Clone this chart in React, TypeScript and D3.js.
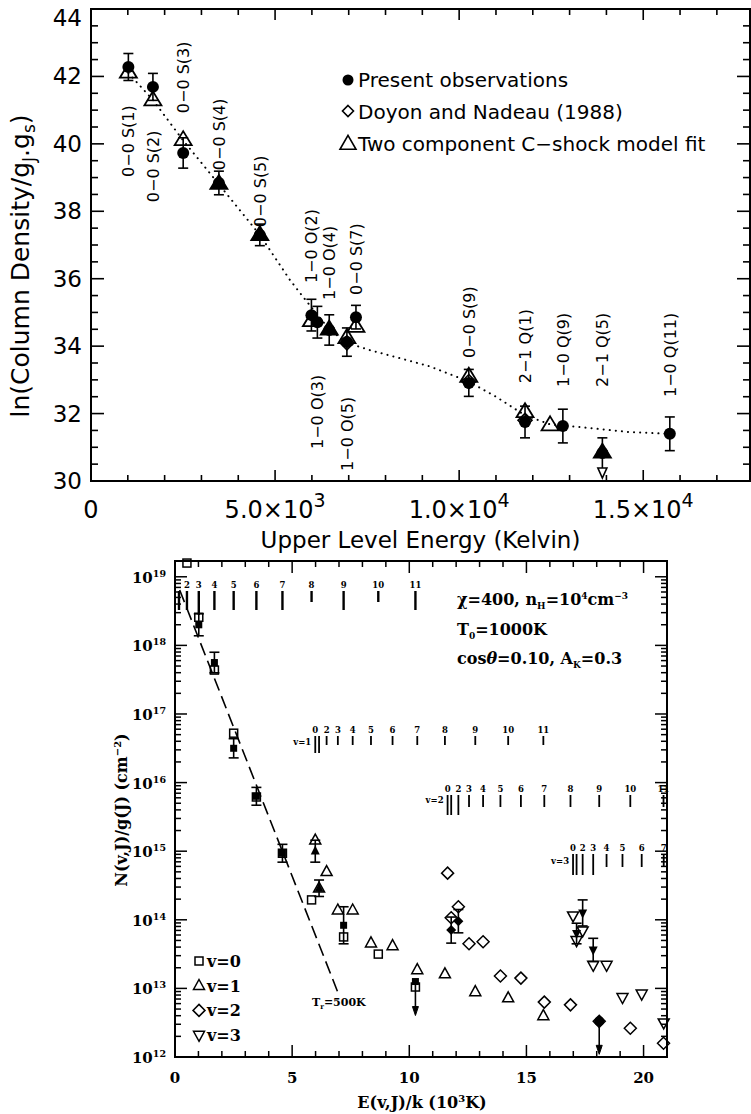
import React from "react";
import * as d3 from "d3";

// ---------- upper panel: ln(N / gJ gs) against upper level energy (K) ----------
const lineNames = [
  "0−0 S(1)", "0−0 S(2)", "0−0 S(3)", "0−0 S(4)", "0−0 S(5)",
  "1−0 O(2)", "1−0 O(3)", "1−0 O(4)", "1−0 O(5)", "0−0 S(7)",
  "0−0 S(9)", "2−1 Q(1)", "1−0 Q(9)", "2−1 Q(5)", "1−0 Q(11)",
];
const lineEnergy = [1015, 1682, 2504, 3474, 4586, 5987, 6149, 6471, 6951, 7197, 10262, 11789, 12817, 13890, 15722];
const obsLn = [42.28, 41.69, 39.73, 38.84, 37.3, 34.92, 34.71, 34.48, 34.12, 34.86, 32.91, 31.75, 31.63, 30.83, 31.4];
const obsErr = [0.4, 0.4, 0.45, 0.35, 0.32, 0.47, 0.47, 0.45, 0.42, 0.35, 0.4, 0.47, 0.5, 0.45, 0.5];
const upperLimitLines = ["2−1 Q(5)"];
// ln value where each rotated line label starts
const labelStartLn = [39.02, 38.27, 40.91, 39.22, 37.53, 35.87, 30.95, 35.37, 30.3, 35.52, 33.65, 32.9, 32.79, 32.79, 32.49];

// two component C-shock model (open triangles)
const modelEnergy = [1015, 1682, 2504, 3474, 4586, 5987, 6471, 6951, 7197, 10262, 11789, 12470, 13890];
const modelLn = [42.12, 41.3, 40.12, 38.82, 37.3, 34.75, 34.5, 34.25, 34.58, 33.1, 32.05, 31.66, 30.85];

// Doyon and Nadeau (1988)
const doyonEnergy = [6951, 10262, 11789];
const doyonLn = [34.1, 32.95, 31.8];

// dotted fit curve
const fitEnergy = [1015, 1682, 2504, 3474, 4586, 5405, 5676, 5987, 6471, 6951, 7577, 8700, 9200, 10262, 11000, 11789, 12466, 13280, 14640, 15700];
const fitLn = [42.1, 41.3, 40.1, 38.8, 37.3, 35.96, 35.58, 35.15, 34.5, 34.1, 33.88, 33.55, 33.4, 32.95, 32.5, 31.95, 31.68, 31.6, 31.45, 31.4];

const topLegend = ["Present observations", "Doyon and Nadeau (1988)", "Two component C−shock model fit"];

// ---------- lower panel: log10 N(v,J)/g(J) against E(v,J)/k (10^3 K) ----------
const v0Energy = [0, 0.17, 0.51, 1.015, 1.682, 2.504, 3.474, 4.586, 5.829, 7.197, 8.677, 10.262];
const v1Energy = [5.987, 6.149, 6.471, 6.951, 7.584, 8.365, 9.286, 10.341, 11.521, 12.817, 14.221, 15.722];
const v2Energy = [11.635, 11.789, 12.095, 12.55, 13.15, 13.89, 14.764, 15.763, 16.88, 18.107, 19.434, 20.851];
const v3Energy = [16.99, 17.14, 17.4, 17.85, 18.42, 19.1, 19.92, 20.86];

// model (open symbols), log10, null = off the plot
const v0Model = [null, null, 19.2, 18.41, 17.64, 16.72, 15.79, 14.97, 14.29, 13.75, 13.5, 13.02];
const v1Model = [15.16, 14.46, 14.7, 14.14, 14.14, 13.66, 13.62, 13.27, 13.21, 12.95, 12.86, 12.6];
const v2Model = [14.68, 14.03, 14.19, 13.65, 13.68, 13.18, 13.15, 12.8, 12.76, 12.52, 12.42, 12.2];
const v3Model = [14.06, 13.7, 13.84, 13.34, 13.34, 12.87, 12.92, 12.5];

// observations (filled symbols), log10 with error in dex
const v0ObsJ = [3, 4, 5, 6, 7, 9];
const v0ObsLog = [18.3, 17.75, 16.5, 15.8, 14.97, 13.92];
const v0ObsErr = [0.16, 0.15, 0.14, 0.13, 0.13, 0.27];
const v1ObsJ = [0, 1];
const v1ObsLog = [15.0, 14.46];
const v1ObsErr = [0.16, 0.12];
const v2ObsJ = [1, 2];
const v2ObsLog = [13.85, 13.98];
const v2ObsErr = [0.19, 0.17];
const v3ObsJ = [1, 2, 3];
const v3ObsLog = [13.8, 14.1, 13.56];
const v3ObsErr = [0.15, 0.19, 0.17];
// upper limits
const v0LimitJ = [11];
const v0LimitLog = [13.1];
const circleLimitE = [18.107];
const circleLimitLog = [12.52];

// level markers: J levels drawn with longer sticks
const rowLongJ = [[3], [0, 1], [0, 1, 2], [0, 1, 2, 3]];
const v0ShortJ = [8, 10];

const tempLine = { t: 500, e0: 0.2, e1: 6.95, logAt0: 18.98 };

const sans = "'DejaVu Sans', sans-serif";
const serif = "'DejaVu Serif', serif";

const triUp = (x: number, y: number, w: number, h: number) =>
  `M${x},${y - h * 0.62}L${x + w / 2},${y + h * 0.38}L${x - w / 2},${y + h * 0.38}Z`;
const triDown = (x: number, y: number, w: number, h: number) =>
  `M${x},${y + h * 0.62}L${x + w / 2},${y - h * 0.38}L${x - w / 2},${y - h * 0.38}Z`;
const diamond = (x: number, y: number, r: number) =>
  `M${x},${y - r}L${x + r},${y}L${x},${y + r}L${x - r},${y}Z`;

function sci(v: number) {
  if (v === 0) return { m: "0", e: "" };
  const e = Math.floor(Math.log10(v));
  return { m: (v / 10 ** e).toFixed(1) + "×10", e: String(e) };
}

export default function App() {
  // upper panel scales
  const xT = d3.scaleLinear().domain([0, 17900]).range([91, 750]);
  const yT = d3.scaleLinear().domain([30, 44]).range([481, 9]);
  const tL = 91, tR = 750, tTop = 9, tBot = 481;

  // lower panel scales
  const xB = d3.scaleLinear().domain([0, 21]).range([175, 667]);
  const yB = d3.scaleLog().domain([1e12, 10 ** 19.23]).range([1057, 561]);
  const bL = 175, bR = 667, bTop = 561, bBot = 1057;
  const yl = (v: number) => yB(10 ** v);

  const fitPath = d3.line<number>().x((_, i) => xT(fitEnergy[i])).y((d) => yT(d))(fitLn) || "";

  const tempPath =
    d3.line<number>().x((e) => xB(e)).y((e) => yl(tempLine.logAt0 - e / (Math.LN10 * tempLine.t / 1000)))([
      tempLine.e0,
      tempLine.e1,
    ]) || "";

  const errBar = (x: number, y1: number, y2: number, cap: number, key: string) => (
    <g key={key} stroke="#000" strokeWidth={1.6}>
      <line x1={x} x2={x} y1={y1} y2={y2} />
      <line x1={x - cap} x2={x + cap} y1={y1} y2={y1} />
      <line x1={x - cap} x2={x + cap} y1={y2} y2={y2} />
    </g>
  );

  const decades = d3.range(12, 20);
  const logMinor: number[] = [];
  decades.forEach((d) => d3.range(2, 10).forEach((k) => {
    const v = k * 10 ** d;
    if (v < 10 ** 19.23) logMinor.push(v);
  }));

  const rows = [
    { v: 0, E: v0Energy, textY: 588, top: 591, bot: 610, longBot: 615, w: 2.4 },
    { v: 1, E: v1Energy, textY: 733, top: 736, bot: 745, longBot: 753, w: 1.8 },
    { v: 2, E: v2Energy, textY: 792, top: 795, bot: 807, longBot: 815, w: 1.8 },
    { v: 3, E: v3Energy, textY: 851, top: 854, bot: 867, longBot: 875, w: 1.8 },
  ];
  const rowLabelY = [0, 745, 803, 864];

  const models = [v0Model, v1Model, v2Model, v3Model];
  const energies = [v0Energy, v1Energy, v2Energy, v3Energy];
  const openSym = (v: number, x: number, y: number, key: string) => {
    const p = { key, fill: "none", stroke: "#000", strokeWidth: 1.5 } as any;
    if (v === 0) return <rect {...p} x={x - 4} y={y - 4} width={8} height={8} />;
    if (v === 1) return <path {...p} d={triUp(x, y, 11, 10)} />;
    if (v === 2) return <path {...p} d={diamond(x, y, 6)} />;
    return <path {...p} d={triDown(x, y, 11, 10)} />;
  };
  const fillSym = (v: number, x: number, y: number, key: string) => {
    if (v === 0) return <rect key={key} x={x - 3.5} y={y - 3.5} width={7} height={7} fill="#000" />;
    if (v === 1) return <path key={key} d={triUp(x, y, 9, 9)} fill="#000" />;
    if (v === 2) return <path key={key} d={diamond(x, y, 5)} fill="#000" />;
    return <path key={key} d={triDown(x, y, 9, 9)} fill="#000" />;
  };
  const obsSets = [
    { v: 0, J: v0ObsJ, L: v0ObsLog, err: v0ObsErr },
    { v: 1, J: v1ObsJ, L: v1ObsLog, err: v1ObsErr },
    { v: 2, J: v2ObsJ, L: v2ObsLog, err: v2ObsErr },
    { v: 3, J: v3ObsJ, L: v3ObsLog, err: v3ObsErr },
  ];

  const downArrow = (x: number, y: number, len: number, key: string) => (
    <g key={key}>
      <line x1={x} x2={x} y1={y} y2={y + len - 6} stroke="#000" strokeWidth={1.6} />
      <path d={`M${x - 3},${y + len - 9}L${x},${y + len}L${x + 3},${y + len - 9}Z`} fill="#000" stroke="#000" strokeWidth={1} />
    </g>
  );

  return (
    <div style={{ position: "absolute", left: 0, top: 0 }}>
      <svg width={751} height={1114} style={{ display: "block", background: "#fff" }}>
        <rect width={751} height={1114} fill="#fff" />

        {/* ================= upper panel ================= */}
        <rect x={tL} y={tTop} width={tR - tL} height={tBot - tTop} fill="none" stroke="#000" strokeWidth={2} />
        <g stroke="#000" strokeWidth={1.6}>
          {d3.range(0, 17901, 1000).map((v) => {
            const L = v % 5000 === 0 ? 11 : 6;
            const x = xT(v);
            return (
              <g key={"tx" + v}>
                <line x1={x} x2={x} y1={tBot} y2={tBot - L} />
                <line x1={x} x2={x} y1={tTop} y2={tTop + L} />
              </g>
            );
          })}
          {d3.range(30, 44.001, 0.5).map((v) => {
            const L = v % 2 === 0 ? 13 : 7;
            const y = yT(v);
            return (
              <g key={"ty" + v}>
                <line x1={tL} x2={tL + L} y1={y} y2={y} />
                <line x1={tR} x2={tR - L} y1={y} y2={y} />
              </g>
            );
          })}
        </g>
        <g fontFamily={sans} fontSize={23} fill="#000">
          {d3.range(30, 44.001, 2).map((v) => (
            <text key={"tyl" + v} x={82} y={Math.max(yT(v) + 8, 26)} textAnchor="end">
              {v}
            </text>
          ))}
          {[0, 5000, 10000, 15000].map((v) => {
            const s = sci(v);
            return (
              <text key={"txl" + v} x={xT(v)} y={518} textAnchor="middle" fontSize={24}>
                {s.m}
                {s.e && (
                  <tspan dy={-11} fontSize={19}>
                    {s.e}
                  </tspan>
                )}
              </text>
            );
          })}
          <text x={(tL + tR) / 2} y={548} textAnchor="middle">
            Upper Level Energy (Kelvin)
          </text>
          <text transform="translate(29,266) rotate(-90)" textAnchor="middle" fontSize={25}>
            ln(Column Density/g
            <tspan dy={6} fontSize={17}>J</tspan>
            <tspan dy={-6}>.g</tspan>
            <tspan dy={6} fontSize={17}>s</tspan>
            <tspan dy={-6}>)</tspan>
          </text>
        </g>

        {/* dotted fit */}
        <path d={fitPath} fill="none" stroke="#000" strokeWidth={2} strokeDasharray="0.1 6" strokeLinecap="round" />

        {/* error bars */}
        {lineNames.map((n, i) => {
          const x = xT(lineEnergy[i]);
          const limit = upperLimitLines.includes(n);
          return errBar(x, yT(obsLn[i] + obsErr[i]), limit ? yT(obsLn[i]) : yT(obsLn[i] - obsErr[i]), 5, "te" + i);
        })}
        {/* upper limit arrow */}
        {lineNames.map((n, i) => {
          if (!upperLimitLines.includes(n)) return null;
          const x = xT(lineEnergy[i]);
          const y = yT(obsLn[i]);
          return (
            <g key={"tl" + i} stroke="#000" strokeWidth={1.6} fill="#fff">
              <line x1={x} x2={x} y1={y} y2={y + 16} />
              <path d={`M${x - 4.5},${y + 15}L${x + 4.5},${y + 15}L${x},${y + 25}Z`} />
            </g>
          );
        })}

        {/* model triangles */}
        {modelEnergy.map((e, i) => {
          const j = lineEnergy.indexOf(e);
          const filled = j >= 0 && Math.abs(obsLn[j] - modelLn[i]) < 0.1;
          return (
            <path
              key={"tm" + i}
              d={triUp(xT(e), yT(modelLn[i]), 17, 14)}
              fill={filled ? "#000" : "none"}
              stroke="#000"
              strokeWidth={1.8}
              strokeLinejoin="miter"
            />
          );
        })}
        {/* Doyon & Nadeau diamonds */}
        {doyonEnergy.map((e, i) => (
          <path key={"td" + i} d={diamond(xT(e), yT(doyonLn[i]), 7)} fill="none" stroke="#000" strokeWidth={1.6} />
        ))}
        {/* observations */}
        {lineNames.map((_, i) => (
          <circle key={"tc" + i} cx={xT(lineEnergy[i])} cy={yT(obsLn[i])} r={6} fill="#000" />
        ))}

        {/* line labels */}
        <g fontFamily={sans} fontSize={16} fill="#000">
          {lineNames.map((n, i) => (
            <text key={"tn" + i} transform={`translate(${xT(lineEnergy[i])},${yT(labelStartLn[i])}) rotate(-90)`} dy="0.36em">
              {n}
            </text>
          ))}
        </g>

        {/* legend */}
        <g fontFamily={sans} fontSize={20} fill="#000">
          <circle cx={348} cy={80} r={5.5} fill="#000" />
          <path d={diamond(348, 111, 5.5)} fill="none" stroke="#000" strokeWidth={1.6} />
          <path d={triUp(348, 144, 16, 14)} fill="none" stroke="#000" strokeWidth={1.6} />
          {topLegend.map((t, i) => (
            <text key={"tlg" + i} x={358} y={87 + i * 32}>
              {t}
            </text>
          ))}
        </g>

        {/* ================= lower panel ================= */}
        <rect x={bL} y={bTop} width={bR - bL} height={bBot - bTop} fill="none" stroke="#000" strokeWidth={2} />
        <g stroke="#000" strokeWidth={1.5}>
          {d3.range(0, 21.001, 1).map((v) => {
            const L = v % 5 === 0 ? 12 : 6;
            const x = xB(v);
            return (
              <g key={"bx" + v}>
                <line x1={x} x2={x} y1={bBot} y2={bBot - L} />
                <line x1={x} x2={x} y1={bTop} y2={bTop + L} />
              </g>
            );
          })}
          {decades.map((d) => (
            <g key={"bd" + d}>
              <line x1={bL} x2={bL + 12} y1={yB(10 ** d)} y2={yB(10 ** d)} />
              <line x1={bR} x2={bR - 12} y1={yB(10 ** d)} y2={yB(10 ** d)} />
            </g>
          ))}
          {logMinor.map((v, i) => (
            <g key={"bm" + i}>
              <line x1={bL} x2={bL + 6} y1={yB(v)} y2={yB(v)} />
              <line x1={bR} x2={bR - 6} y1={yB(v)} y2={yB(v)} />
            </g>
          ))}
        </g>
        <g fontFamily={serif} fontWeight="bold" fill="#000">
          {decades.map((d) => (
            <text key={"byl" + d} x={166} y={yB(10 ** d) + 6} textAnchor="end" fontSize={15}>
              10
              <tspan dy={-6} fontSize={9.5}>
                {d}
              </tspan>
            </text>
          ))}
          {d3.range(0, 21, 5).map((v) => (
            <text key={"bxl" + v} x={xB(v)} y={1083} textAnchor="middle" fontSize={15}>
              {v}
            </text>
          ))}
          <text x={422} y={1108} textAnchor="middle" fontSize={16}>
            E(v,J)/k (10
            <tspan dy={-6} fontSize={10}>3</tspan>
            <tspan dy={6}>K)</tspan>
          </text>
          <text transform="translate(127,810) rotate(-90)" textAnchor="middle" fontSize={16}>
            N(v,J)/g(J) (cm
            <tspan dy={-6} fontSize={10}>−2</tspan>
            <tspan dy={6}>)</tspan>
          </text>

          {/* parameters */}
          <text x={457} y={605} fontSize={16}>
            χ=400,  n
            <tspan dy={4} fontSize={9}>H</tspan>
            <tspan dy={-4}>=10</tspan>
            <tspan dy={-6} fontSize={9}>4</tspan>
            <tspan dy={6}>cm</tspan>
            <tspan dy={-6} fontSize={9}>−3</tspan>
          </text>
          <text x={457} y={635} fontSize={16}>
            T<tspan dy={4} fontSize={9}>0</tspan>
            <tspan dy={-4}>=1000K</tspan>
          </text>
          <text x={457} y={664} fontSize={16}>
            cos<tspan fontStyle="italic">θ</tspan>=0.10,  A
            <tspan dy={4} fontSize={9}>K</tspan>
            <tspan dy={-4}>=0.3</tspan>
          </text>

          <text x={312} y={1006} fontSize={11}>
            T<tspan dy={3} fontSize={7}>r</tspan>
            <tspan dy={-3}>={tempLine.t}K</tspan>
          </text>

          {/* legend */}
          {["v=0", "v=1", "v=2", "v=3"].map((t, i) => (
            <text key={"blg" + i} x={207} y={967 + i * 24.7} fontSize={16}>
              {t}
            </text>
          ))}
        </g>
        {[0, 1, 2, 3].map((v, i) => openSym(v, 199, 961 + i * 24.7, "bls" + i))}

        {/* energy level markers */}
        <g fontFamily={serif} fontWeight="bold" fontSize={8.5} fill="#000">
          {rows.map((r, ri) => (
            <g key={"row" + ri}>
              {r.E.map((e, J) => {
                if (ri === 0 && J === 0) return null;
                const x = xB(e);
                const long = rowLongJ[ri].includes(J);
                const short = ri === 0 && v0ShortJ.includes(J);
                const y2 = long ? r.longBot : short ? r.bot - 8 : r.bot;
                return (
                  <g key={"st" + J}>
                    <line x1={x} x2={x} y1={r.top} y2={y2} stroke="#000" strokeWidth={r.w} />
                    {J !== 1 && (
                      <text x={x} y={r.textY} textAnchor="middle">
                        {J}
                      </text>
                    )}
                  </g>
                );
              })}
              {ri > 0 && (
                <text x={xB(r.E[0]) - 4} y={rowLabelY[ri]} textAnchor="end">
                  v={r.v}
                </text>
              )}
            </g>
          ))}
        </g>

        {/* T = 500 K line */}
        <path d={tempPath} fill="none" stroke="#000" strokeWidth={1.6} strokeDasharray="13 6" />

        {/* error bars */}
        {obsSets.map((s) =>
          s.J.map((J, i) => {
            const x = xB(energies[s.v][J]);
            return errBar(x, yl(s.L[i] + s.err[i]), yl(s.L[i] - s.err[i]), 5, `be${s.v}-${J}`);
          })
        )}

        {/* model points */}
        {models.map((m, v) =>
          m.map((val, J) => (val == null ? null : openSym(v, xB(energies[v][J]), yl(val), `bo${v}-${J}`)))
        )}

        {/* observed points */}
        {obsSets.map((s) => s.J.map((J, i) => fillSym(s.v, xB(energies[s.v][J]), yl(s.L[i]), `bf${s.v}-${J}`)))}

        {/* upper limits */}
        {v0LimitJ.map((J, i) => {
          const x = xB(v0Energy[J]);
          const y = yl(v0LimitLog[i]);
          return (
            <g key={"ul0" + i}>
              {fillSym(0, x, y, "ulsq" + i)}
              {downArrow(x, y, 34, "ula" + i)}
            </g>
          );
        })}
        {circleLimitE.map((e, i) => {
          const x = xB(e);
          const y = yl(circleLimitLog[i]);
          return (
            <g key={"ulc" + i}>
              <circle cx={x} cy={y} r={5} fill="#000" />
              {downArrow(x, y, 33, "ulca" + i)}
            </g>
          );
        })}
      </svg>
    </div>
  );
}
